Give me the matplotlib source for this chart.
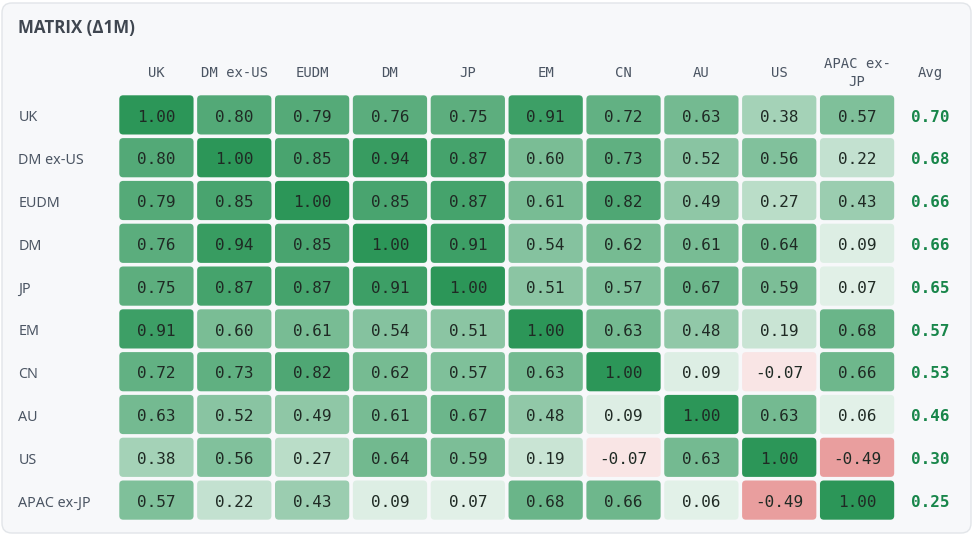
"""Correlation matrix heatmap card (1M changes)."""

import matplotlib

matplotlib.use("Agg")
import matplotlib.pyplot as plt  # noqa: E402
from matplotlib.patches import FancyBboxPatch  # noqa: E402
import numpy as np  # noqa: E402

# --- data -----------------------------------------------------------------
markets = ["UK", "DM ex-US", "EUDM", "DM", "JP", "EM", "CN", "AU", "US", "APAC ex-JP"]
col_labels = ["UK", "DM ex-US", "EUDM", "DM", "JP", "EM", "CN", "AU", "US", "APAC ex-\nJP"]

row_uk = [1.00, 0.80, 0.79, 0.76, 0.75, 0.91, 0.72, 0.63, 0.38, 0.57]
row_dmxus = [0.80, 1.00, 0.85, 0.94, 0.87, 0.60, 0.73, 0.52, 0.56, 0.22]
row_eudm = [0.79, 0.85, 1.00, 0.85, 0.87, 0.61, 0.82, 0.49, 0.27, 0.43]
row_dm = [0.76, 0.94, 0.85, 1.00, 0.91, 0.54, 0.62, 0.61, 0.64, 0.09]
row_jp = [0.75, 0.87, 0.87, 0.91, 1.00, 0.51, 0.57, 0.67, 0.59, 0.07]
row_em = [0.91, 0.60, 0.61, 0.54, 0.51, 1.00, 0.63, 0.48, 0.19, 0.68]
row_cn = [0.72, 0.73, 0.82, 0.62, 0.57, 0.63, 1.00, 0.09, -0.07, 0.66]
row_au = [0.63, 0.52, 0.49, 0.61, 0.67, 0.48, 0.09, 1.00, 0.63, 0.06]
row_us = [0.38, 0.56, 0.27, 0.64, 0.59, 0.19, -0.07, 0.63, 1.00, -0.49]
row_apac = [0.57, 0.22, 0.43, 0.09, 0.07, 0.68, 0.66, 0.06, -0.49, 1.00]

avg = [0.70, 0.68, 0.66, 0.66, 0.65, 0.57, 0.53, 0.46, 0.30, 0.25]

corr = np.array([row_uk, row_dmxus, row_eudm, row_dm, row_jp,
                 row_em, row_cn, row_au, row_us, row_apac])

# --- style ----------------------------------------------------------------
W, H = 975, 536
GREEN = np.array([44, 150, 88]) / 255
RED = np.array([214, 72, 72]) / 255
MONO = "DejaVu Sans Mono"
SANS = "Noto Sans"
LABEL_C = "#4b5563"


def cell_colour(v):
    a = 0.08 + 0.92 * abs(v)
    base = GREEN if v >= 0 else RED
    return tuple(1 - a * (1 - base))


fig = plt.figure(figsize=(W / 100, H / 100), dpi=100)
fig.patch.set_facecolor("white")

# card background
card = FancyBboxPatch((2 / W, 3 / H), 969 / W, 530 / H,
                      boxstyle="round,pad=0,rounding_size=0.01",
                      transform=fig.transFigure, facecolor="#f7f8fa",
                      edgecolor="#e2e5e9", linewidth=1.0,
                      mutation_aspect=W / H, zorder=-10)
fig.patches.append(card)

fig.text(18 / W, 1 - 28 / H, "MATRIX (\u03941M)", fontsize=12.2,
         fontweight="bold", color="#3f4650", family=["Open Sans", "DejaVu Sans"],
         va="center")

# grid axes: cells in index coordinates
gx0, gx1, gy0, gy1 = 117.5, 896, 93.5, 521.5
ax = fig.add_axes([gx0 / W, 1 - gy1 / H, (gx1 - gx0) / W, (gy1 - gy0) / H])
ax.set_zorder(1)
n = len(markets)
ax.set_xlim(-0.5, n - 0.5)
ax.set_ylim(n - 0.5, -0.5)
ax.axis("off")

px_x = (gx1 - gx0) / n
px_y = (gy1 - gy0) / n
pad_x = 1.8 / px_x
pad_y = 1.8 / px_y
for i in range(n):
    for j in range(n):
        v = corr[i, j]
        box = FancyBboxPatch((j - 0.5 + pad_x, i - 0.5 + pad_y),
                             1 - 2 * pad_x, 1 - 2 * pad_y,
                             boxstyle="round,pad=0,rounding_size=0.05",
                             mutation_aspect=px_x / px_y,
                             facecolor=cell_colour(v), edgecolor="none")
        ax.add_patch(box)
        ax.text(j, i + 0.05, f"{v:.2f}", ha="center", va="center",
                fontsize=11.5, family=MONO, color="#1f2a24")

# column headers
for j, lab in enumerate(col_labels):
    ax.text(j, -0.98, lab, ha="center", va="center", fontsize=10,
            family=MONO, color=LABEL_C, linespacing=1.35, clip_on=False)
ax.text(n - 0.5 + 34 / px_x, -0.98, "Avg", ha="center", va="center",
        fontsize=10, family=MONO, color=LABEL_C, clip_on=False)

# row labels and averages
for i, lab in enumerate(markets):
    ax.text(-0.5 - 99 / px_x, i + 0.07, lab, ha="left", va="center",
            fontsize=10.3, family=SANS, color=LABEL_C, clip_on=False)
    ax.text(n - 0.5 + 34 / px_x, i + 0.05, f"{avg[i]:.2f}", ha="center",
            va="center", fontsize=11.5, family=MONO, fontweight="bold",
            color="#18864a", clip_on=False)

fig.savefig("out.png", dpi=100)
plt.close(fig)
